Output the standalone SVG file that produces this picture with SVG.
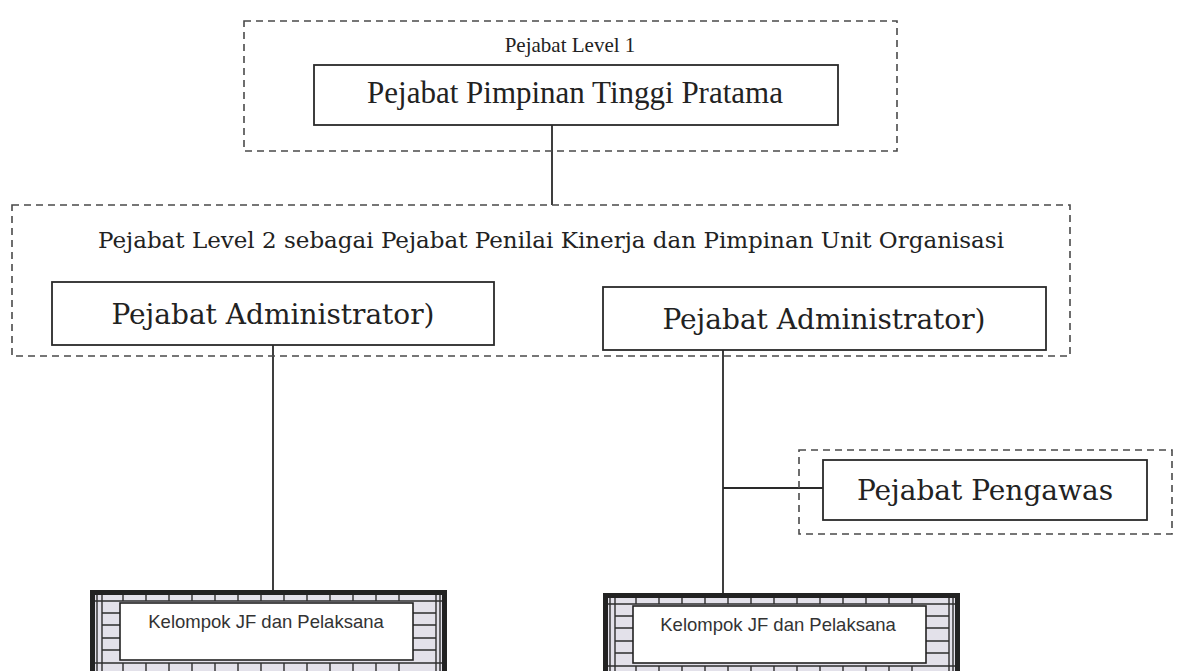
<svg xmlns="http://www.w3.org/2000/svg" xmlns:xlink="http://www.w3.org/1999/xlink" width="1178" height="671" viewBox="0 0 1178 671">
  <style>
    .dash { fill: none; stroke: #4a4a4a; stroke-width: 1.6; stroke-dasharray: 7 5; }
    .box { fill: #ffffff; stroke: #2a2a2a; stroke-width: 1.8; }
    .conn { fill: none; stroke: #2a2a2a; stroke-width: 1.8; }
    .t-cam { font-family: "Liberation Serif", serif; fill: #222; text-anchor: middle; }
    .t-cen { font-family: "DejaVu Serif", serif; fill: #222; text-anchor: middle; }
    .t-sans { font-family: "Liberation Sans", Arial, sans-serif; fill: #333; text-anchor: middle; }
    .grid { fill: none; stroke: #2e2e2e; stroke-width: 1.4; }
  </style>
  <defs>
    <!-- brick-walled frame used for the staff groups -->
    <g id="brick-frame">
      <rect x="0" y="0" width="357" height="95" fill="#e3e1ea"/>
      <!-- top brick row -->
      <path class="grid" d="M5 11 H352 M33 2 V11 M56 2 V11 M79 2 V11 M102 2 V11 M125 2 V11 M148 2 V11 M171 2 V11 M194 2 V11 M217 2 V11 M240 2 V11 M263 2 V11 M286 2 V11 M309 2 V11"/>
      <!-- left brick column -->
      <path class="grid" d="M7 2 V95 M12 2 V95 M12 23 H30 M12 35 H30 M12 48 H30 M12 60 H30"/>
      <!-- right brick column -->
      <path class="grid" d="M346 2 V95 M350 2 V95 M323 23 H346 M323 35 H346 M323 48 H346 M323 60 H346"/>
      <!-- bottom brick row -->
      <path class="grid" d="M5 73 H352 M33 73 V95 M56 73 V95 M79 73 V95 M102 73 V95 M125 73 V95 M148 73 V95 M171 73 V95 M194 73 V95 M217 73 V95 M240 73 V95 M263 73 V95 M286 73 V95 M309 73 V95"/>
      <rect x="2.5" y="2.5" width="352" height="110" fill="none" stroke="#222" stroke-width="5"/>
      <rect x="30" y="13" width="293" height="57" fill="#fff" stroke="#222" stroke-width="1.6"/>
    </g>
  </defs>

  <rect width="1178" height="671" fill="#ffffff"/>

  <!-- connectors -->
  <g id="connectors">
    <path class="conn" d="M552 125 V205"/>
    <path class="conn" d="M273 345 V591"/>
    <path class="conn" d="M723 350 V594"/>
    <path class="conn" d="M723 488 H823"/>
  </g>

  <!-- level 1 -->
  <g id="level1">
    <rect class="dash" x="244" y="21" width="653" height="130"/>
    <text class="t-cam" x="570" y="52" font-size="21">Pejabat Level 1</text>
  </g>
  <g id="pimpinan-tinggi">
    <rect class="box" x="314" y="65" width="524" height="60"/>
    <text class="t-cam" x="575" y="103" font-size="31">Pejabat Pimpinan Tinggi Pratama</text>
  </g>

  <!-- level 2 -->
  <g id="level2">
    <rect class="dash" x="12" y="205" width="1058" height="151"/>
    <text class="t-cen" x="551" y="248" font-size="21.5" textLength="906" lengthAdjust="spacingAndGlyphs">Pejabat Level 2 sebagai Pejabat Penilai Kinerja dan Pimpinan Unit Organisasi</text>
  </g>
  <g id="administrator-1">
    <rect class="box" x="52" y="282" width="442" height="63"/>
    <text class="t-cen" x="273" y="324" font-size="28">Pejabat Administrator)</text>
  </g>
  <g id="administrator-2">
    <rect class="box" x="603" y="287" width="443" height="63"/>
    <text class="t-cen" x="824" y="329" font-size="28">Pejabat Administrator)</text>
  </g>

  <!-- supervisor -->
  <g id="pengawas">
    <rect class="dash" x="799" y="450" width="373" height="84"/>
    <rect class="box" x="823" y="460" width="324" height="60"/>
    <text class="t-cen" x="985" y="500" font-size="28">Pejabat Pengawas</text>
  </g>

  <!-- staff groups -->
  <g id="kelompok-1">
    <use xlink:href="#brick-frame" x="90" y="590"/>
    <text class="t-sans" x="266" y="628" font-size="18.5">Kelompok JF dan Pelaksana</text>
  </g>
  <g id="kelompok-2">
    <use xlink:href="#brick-frame" x="603" y="593"/>
    <text class="t-sans" x="778" y="631" font-size="18.5">Kelompok JF dan Pelaksana</text>
  </g>
</svg>
